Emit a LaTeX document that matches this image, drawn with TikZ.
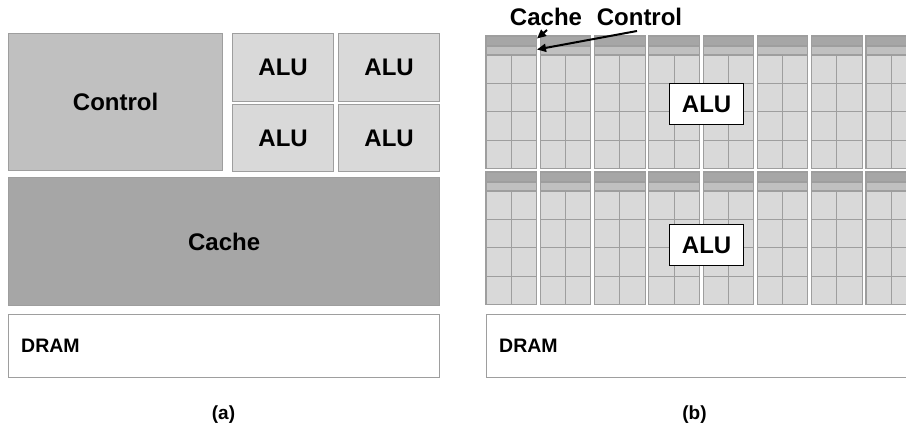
\documentclass[tikz,border=0pt]{standalone}
\usepackage{fontspec}
\setmainfont{Liberation Sans}
\usetikzlibrary{arrows.meta}
\definecolor{edgegray}{HTML}{9E9E9E}
\definecolor{darkfill}{HTML}{A6A6A6}
\definecolor{midfill}{HTML}{C0C0C0}
\definecolor{lightfill}{HTML}{D9D9D9}
\tikzset{
  panel/.style={draw=edgegray, line width=1.2pt, anchor=north west, inner sep=0pt,
                font=\fontsize{24}{28}\selectfont\bfseries},
  alutag/.style={draw=black, fill=white, line width=1.3pt, anchor=north west, inner sep=0pt,
                 minimum width=74pt, minimum height=41pt,
                 font=\fontsize{24}{28}\selectfont\bfseries},
  biglbl/.style={font=\fontsize{24}{28}\selectfont\bfseries, inner sep=0pt},
  dramlbl/.style={font=\fontsize{19.5}{23}\selectfont\bfseries, inner sep=0pt, anchor=west},
  caplbl/.style={font=\fontsize{19}{23}\selectfont\bfseries, inner sep=0pt},
  gridline/.style={draw=edgegray, line width=1.1pt},
  ptr/.style={line width=2pt, -{Triangle[length=9pt,width=8pt]}}
}
\begin{document}
\begin{tikzpicture}[x=1pt,y=-1pt]
\useasboundingbox (0,0) rectangle (906,428);

% ---------- (a) conventional processor ----------
\node[panel, fill=midfill, minimum width=214pt, minimum height=137pt] (control) at (8,33) {Control};
\node[panel, fill=lightfill, minimum width=101pt, minimum height=68pt] (alu1) at (232,33) {ALU};
\node[panel, fill=lightfill, minimum width=101pt, minimum height=68pt] (alu2) at (338,33) {ALU};
\node[panel, fill=lightfill, minimum width=101pt, minimum height=67pt] (alu3) at (232,104) {ALU};
\node[panel, fill=lightfill, minimum width=101pt, minimum height=67pt] (alu4) at (338,104) {ALU};
\node[panel, fill=darkfill, minimum width=431pt, minimum height=128pt] (cache) at (8,177) {Cache};
\node[panel, fill=white, minimum width=431pt, minimum height=63pt] (drama) at (8,314) {};
\node[dramlbl] (dramatext) at (21,346) {DRAM};
\node[caplbl] (capa) at (223.5,415) {(a)};

% ---------- (b) many-core processor ----------
\begin{scope}
\clip (480,30) rectangle (906,310);
\foreach \i in {0,...,7} {
  \pgfmathsetmacro\bx{486+54.28*\i}
  \foreach \y in {36,172} {
    % header strips: cache (dark) and control (light)
    \fill[darkfill] (\bx,\y) rectangle ++(50.5,10);
    \fill[midfill] (\bx,\y+10) rectangle ++(50.5,9);
    % core cells
    \fill[lightfill] (\bx,\y+19) rectangle ++(50.5,113.6);
    \draw[gridline] (\bx,\y+10) -- ++(50.5,0);
    \foreach \r in {0,1,2,3} {
      \draw[gridline] (\bx,\y+19+28.4*\r) -- ++(50.5,0);
    }
    \draw[gridline] (\bx+25.25,\y+19) -- ++(0,113.6);
    \draw[gridline] (\bx,\y) rectangle ++(50.5,132.6);
  }
}
\end{scope}

\node[alutag] (alut) at (669,83) {ALU};
\node[alutag] (alub) at (669,224) {ALU};

\node[panel, fill=white, minimum width=430pt, minimum height=63pt] (dramb) at (486,314) {};
\node[dramlbl] (drambtext) at (499,346) {DRAM};
\node[caplbl] (capb) at (694.5,415) {(b)};

% labels pointing at the header strips
\node[biglbl, anchor=base] (cachelbl) at (546,26) {Cache};
\node[biglbl, anchor=base] (ctrllbl) at (639.5,26) {Control};
\coordinate (cachefrom) at (547,30);
\coordinate (cacheto) at (537,38.5);
\coordinate (ctrlfrom) at (637,31);
\coordinate (ctrlto) at (537,49.5);
\draw[ptr] (cachefrom) -- (cacheto);
\draw[ptr] (ctrlfrom) -- (ctrlto);
\end{tikzpicture}
\end{document}
